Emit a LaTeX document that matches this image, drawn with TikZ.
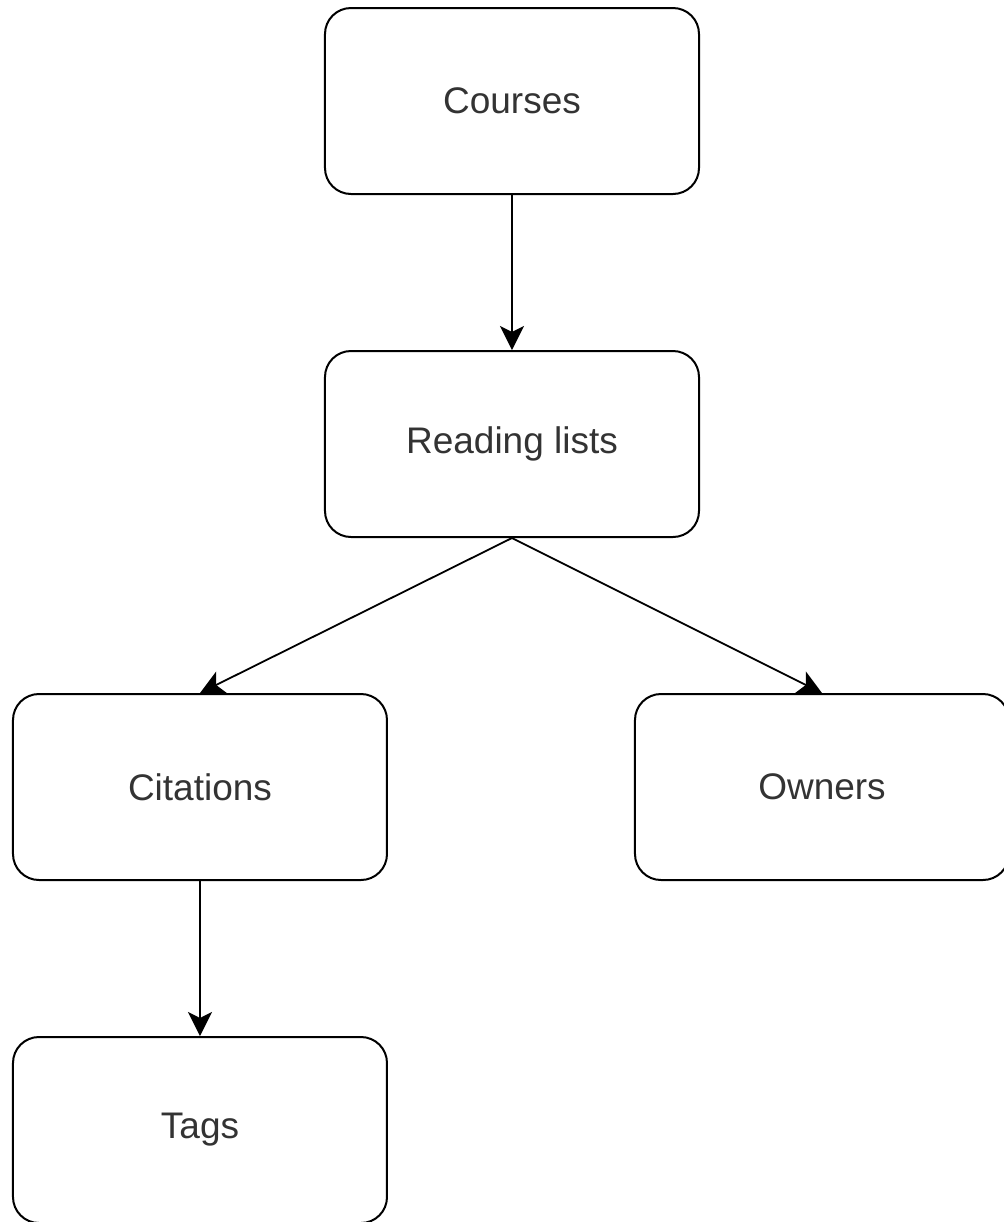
\documentclass[tikz,border=0pt]{standalone}
\usepackage{fontspec}
\setmainfont{Liberation Sans}
\usepackage{tikz}
\usetikzlibrary{arrows.meta,positioning}
\definecolor{labelgrey}{HTML}{333333}
\tikzset{%
  >={Stealth[width=12pt,length=12pt,inset=3pt]},
  % Specifications for style of nodes:
      entity/.style = {rectangle, rounded corners=13pt, draw=black,
                       line width=1pt, minimum width=187pt,
                       minimum height=93pt, text centered,
                       text=labelgrey, font=\fontsize{18.5}{22}\selectfont},
}

\begin{document}
\begin{tikzpicture}[node distance=77.5pt, line width=0.9pt]
  % Fixed frame of the page
  \useasboundingbox (-256pt,50.5pt) rectangle (245.5pt,-560.5pt);
  % Specification of nodes (position, etc.)
  \node (courses)      [entity]                                {Courses};
  \node (readingLists) [entity, below=of courses]          {Reading lists};
  \node (citations)    [entity, below=of readingLists, xshift=-156pt]
                                                             {Citations};
  \node (owners)       [entity, below=of readingLists, xshift=155pt]
                                                                {Owners};
  \node (tags)         [entity, below=of citations]              {Tags};
  % Specification of lines between nodes specified above
  \draw[->]      (courses.south) -- (readingLists.north);
  \draw[->] (readingLists.south) -- (citations.north);
  \draw[->] (readingLists.south) -- (owners.north);
  \draw[->]    (citations.south) -- (tags.north);
\end{tikzpicture}
\end{document}
